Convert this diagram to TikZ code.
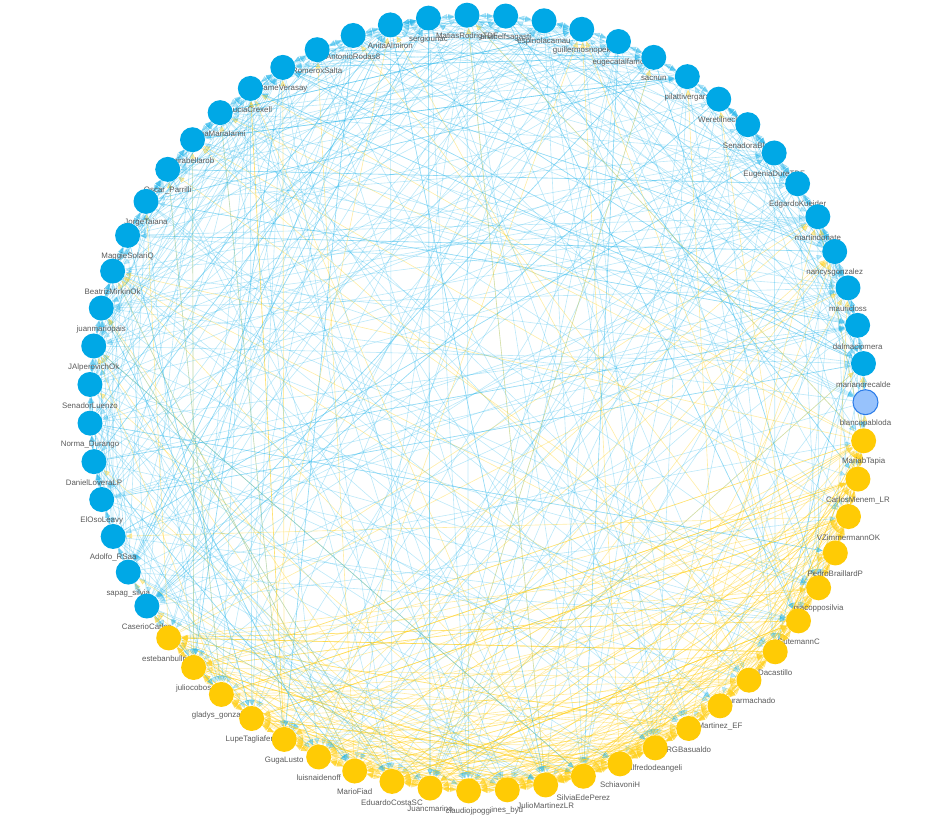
\documentclass[tikz,border=0pt]{standalone}
\usepackage{fontspec}
\setmainfont{Liberation Sans}
\usetikzlibrary{arrows.meta}
\definecolor{fdtblue}{HTML}{00A8E6}
\definecolor{jxcgold}{HTML}{FFCB05}
\definecolor{visfill}{HTML}{97C2FC}
\definecolor{visline}{HTML}{2B7CE9}
\definecolor{lblgray}{HTML}{5A5A5A}
\pgfdeclarelayer{edges}
\pgfdeclarelayer{labels}
\pgfsetlayers{edges,labels,main}

\begin{document}
\begin{tikzpicture}[x=0.02cm,y=0.02cm,
  senator/.style={circle,inner sep=0pt,minimum size=0.5cm},
  fdt/.style={fill=fdtblue},
  jxc/.style={fill=jxcgold},
  undecided/.style={fill=visfill,draw=visline,line width=0.6pt},
  lbl/.style={font=\fontsize{4.5}{5}\selectfont,text=lblgray,inner sep=0pt},
  bedge/.style={draw=fdtblue!85!white,line width=0.35pt,opacity=0.3,-{Triangle[length=3.4pt,width=3pt]}},
  yedge/.style={draw=jxcgold!90!white,line width=0.35pt,opacity=0.4,-{Triangle[length=3.4pt,width=3pt]}}]
  \useasboundingbox (-477.5,-429) rectangle (456.5,403);
  \def\R{388}
  % senators round the circle
  \foreach \i/\lab/\col in {0/MatiasRodrigTDF/fdt, 1/anabelfsagasti/fdt, 2/espinolacamau/fdt,
      3/guillermosnopek/fdt, 4/eugecatalfamo/fdt, 5/sacnun/fdt, 6/pilattivergara/fdt,
      7/Weretilneck/fdt, 8/SenadoraBlas/fdt, 9/EugeniaDureTDF/fdt, 10/EdgardoKueider/fdt,
      11/martindonate/fdt, 12/nancysgonzalez/fdt, 13/mauricloss/fdt, 14/dalmaciomera/fdt,
      15/marianorecalde/fdt, 16/blancopabloda/undecided, 17/MariabTapia/jxc,
      18/CarlosMenem\_LR/jxc, 19/VZimmermannOK/jxc, 20/PedroBraillardP/jxc,
      21/giacopposilvia/jxc, 22/GutemannC/jxc, 23/Dacastillo/jxc, 24/laurarmachado/jxc,
      25/Martinez\_EF/jxc, 26/RGBasualdo/jxc, 27/alfredodeangeli/jxc, 28/SchiavoniH/jxc,
      29/SilviaEdePerez/jxc, 30/JulioMartinezLR/jxc, 31/ines\_byd/jxc, 32/claudiojpoggi/jxc,
      33/Juancmarino/jxc, 34/EduardoCostaSC/jxc, 35/MarioFiad/jxc, 36/luisnaidenoff/jxc,
      37/GugaLusto/jxc, 38/LupeTagliaferri/jxc, 39/gladys\_gonzalez/jxc, 40/juliocobos/jxc,
      41/estebanbullrich/jxc, 42/CaserioCarlos/fdt, 43/sapag\_silvia/fdt, 44/Adolfo\_RSaa/fdt,
      45/ElOsoLeavy/fdt, 46/DanielLoveraLP/fdt, 47/Norma\_Durango/fdt, 48/SenadorLuenzo/fdt,
      49/JAlperovichOk/fdt, 50/juanmariopais/fdt, 51/BeatrizMirkinOk/fdt, 52/MaggieSolariQ/fdt,
      53/JorgeTaiana/fdt, 54/Oscar\_Parrilli/fdt, 55/mirabellarob/fdt, 56/AnaMariaIanni/fdt,
      57/LuciaCrexell/fdt, 58/PameVerasay/fdt, 59/RomeroxSalta/fdt, 60/AntonioRodas8/fdt,
      61/AnitaAlmiron/fdt, 62/sergiounac/fdt}{
    \pgfmathsetmacro\px{\R*cos(91.55-\i*5.7143)}
    \pgfmathsetmacro\py{\R*sin(91.55-\i*5.7143)}
    \node[senator,\col] (n\i) at (\px,\py) {};
    \begin{pgfonlayer}{labels}
      \node[lbl] (l\i) at ([yshift=-0.42cm]n\i) {\lab};
    \end{pgfonlayer}
  }
  % mentions between senators
  \begin{pgfonlayer}{edges}
    \pgfmathsetseed{4217}
    \foreach \s in {0,...,62}{
      \pgfmathtruncatemacro\isy{and(\s>16,\s<42)}
      \ifnum\isy=1 \def\ek{yedge}\else\def\ek{bedge}\fi
      \pgfmathtruncatemacro\nb{mod(\s+1,63)}
      \pgfmathtruncatemacro\pr{mod(\s+62,63)}
      \pgfmathtruncatemacro\nn{mod(\s+2,63)}
      \draw[\ek] (n\s) -- (n\nb);
      \draw[\ek] (n\s) -- (n\pr);
      \draw[\ek] (n\s) -- (n\nn);
      \ifnum\s=16 \def\cnt{3}\else\def\cnt{12}\fi
      \foreach \j in {1,...,\cnt}{
        \pgfmathsetmacro\u{rnd}
        \pgfmathrandominteger{\ta}{17}{41}
        \pgfmathrandominteger{\tb}{0}{62}
        \ifnum\isy=1 \ifdim\u pt<0.7pt \let\t\ta\else\let\t\tb\fi\else\let\t\tb\fi
        \ifnum\t=\s\else\draw[\ek] (n\s) -- (n\t);\fi
      }
    }
  \end{pgfonlayer}
\end{tikzpicture}
\end{document}
